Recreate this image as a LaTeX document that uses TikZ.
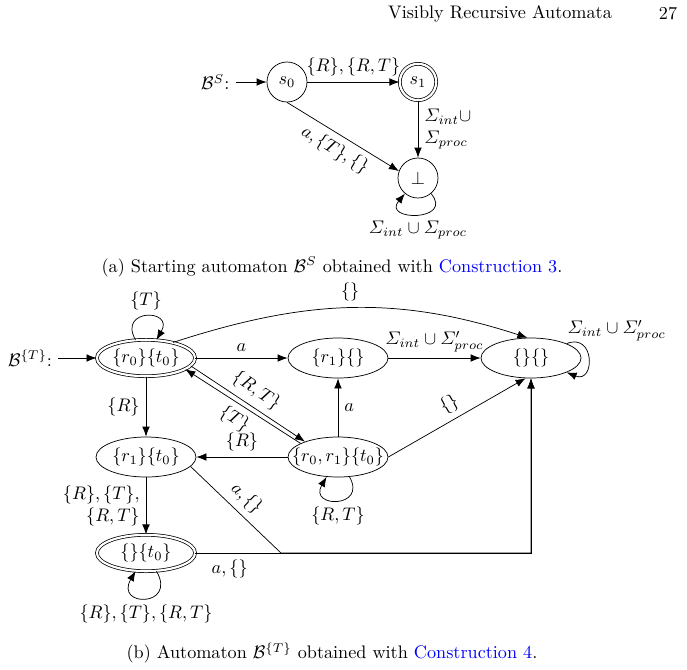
\documentclass[tikz,border=0pt]{standalone}
\usepackage{amsmath,amssymb}
\usepackage{tikz}
\usetikzlibrary{arrows.meta,positioning,shapes.geometric}

\begin{document}
\begin{tikzpicture}[x=0.55pt,y=-0.55pt,>={Latex[length=5.5pt,width=4.2pt]},node distance=5mm,
 circ/.style={draw,circle,minimum size=22pt,inner sep=0pt},
 oval/.style={draw,ellipse,minimum width=55pt,minimum height=22pt,inner sep=0pt},
 fin/.style={double,double distance=1.2pt},
 flow/.style={->},
 selfloop/.style={loop,min distance=20pt}]
\useasboundingbox (0,0) rectangle (687,669);
% running head
\node (hdr) at (500,14) {Visibly Recursive Automata};
\node (pg) at (668,14) {27};
% (a) starting automaton
\node[circ] (s0) at (287,82) {$s_0$};
\node[circ,fin,minimum size=20pt] (s1) at (418,82) {$s_1$};
\node[circ] (bot) at (418,178) {$\bot$};
\node[left=17pt of s0] (bs) {$\mathcal{B}^S$:};
\draw[flow] (bs) -- (s0);
\draw[flow] (s0) -- node[above]{$\{R\},\{R,T\}$} (s1);
\draw[flow] (s1) -- node[right,align=left]{$\varSigma_{int}\cup$\\$\varSigma_{proc}$} (bot);
\draw[flow] (s0.south) -- node[below,sloped]{$a,\{T\},\{\}$} (bot.160);
\draw[flow] (bot) to[selfloop,out=-50,in=-130] node[below]{$\varSigma_{int}\cup\varSigma_{proc}$} (bot);
\node (capa) at (332,267) {(a) Starting automaton $\mathcal{B}^S$ obtained with \textcolor{blue}{Construction 3}.};
% (b) automaton for {T}
\node[oval,fin,minimum width=54pt,minimum height=20pt] (r0t0) at (146,358) {$\{r_0\}\{t_0\}$};
\node[oval] (r1e) at (338,358) {$\{r_1\}\{\}$};
\node[oval] (ee) at (531,358) {$\{\}\{\}$};
\node[oval] (r1t0) at (146,457) {$\{r_1\}\{t_0\}$};
\node[oval] (r0r1t0) at (338,457) {\makebox[36pt]{$\{r_0,r_1\}\{t_0\}$}};
\node[oval,fin,minimum width=54pt,minimum height=20pt] (et0) at (146,553) {$\{\}\{t_0\}$};
\node[left=21pt of r0t0] (bt) {$\mathcal{B}^{\{T\}}$:};
\coordinate (jn) at (281,553);
\coordinate (cr) at (531,553);
\draw[flow] (bt) -- (r0t0);
\draw[flow] (r0t0) to[selfloop,out=120,in=60] node[above]{$\{T\}$} (r0t0);
\draw[flow] (r0t0.30) to[out=18,in=162] node[above]{$\{\}$} (ee.100);
\draw[flow] (r0t0) -- node[above]{$a$} (r1e);
\draw[flow] (r1e) -- node[above]{$\varSigma_{int}\cup\varSigma'_{proc}$} (ee);
\draw[flow] (ee) to[selfloop,out=22,in=-22,min distance=17pt] node[pos=0,anchor=south west,xshift=-3pt,yshift=-2pt]{$\varSigma_{int}\cup\varSigma'_{proc}$} (ee);
\draw[flow] (r0t0) -- node[left]{$\{R\}$} (r1t0);
\draw[flow] (r0t0.-10) -- node[above,sloped]{$\{R,T\}$} (r0r1t0.155);
\draw[flow] (r0r1t0.160) -- node[below,sloped]{$\{T\}$} (r0t0.-16);
\draw[flow] (r0r1t0) -- node[right]{$a$} (r1e);
\draw[flow] (r0r1t0.east) -- node[above,sloped]{$\{\}$} (ee.-105);
\draw[flow] (r0r1t0) -- node[above]{$\{R\}$} (r1t0);
\draw[flow] (r0r1t0) to[selfloop,out=-60,in=-120] node[below]{$\{R,T\}$} (r0r1t0);
\draw[flow] (r1t0) -- node[left,align=right]{$\{R\},\{T\},$\\$\{R,T\}$} (et0);
\draw[flow] (r1t0.-12) -- node[above,sloped]{$a,\{\}$} (jn) -- (cr) -- (ee.south);
\draw[flow] (et0) -- node[below,pos=0.4]{$a,\{\}$} (jn) -- (cr) -- (ee.south);
\draw[flow] (et0) to[selfloop,out=-60,in=-120,min distance=23pt] node[below]{$\{R\},\{T\},\{R,T\}$} (et0);
\node (capb) at (332,653) {(b) Automaton $\mathcal{B}^{\{T\}}$ obtained with \textcolor{blue}{Construction 4}.};
\end{tikzpicture}
\end{document}
